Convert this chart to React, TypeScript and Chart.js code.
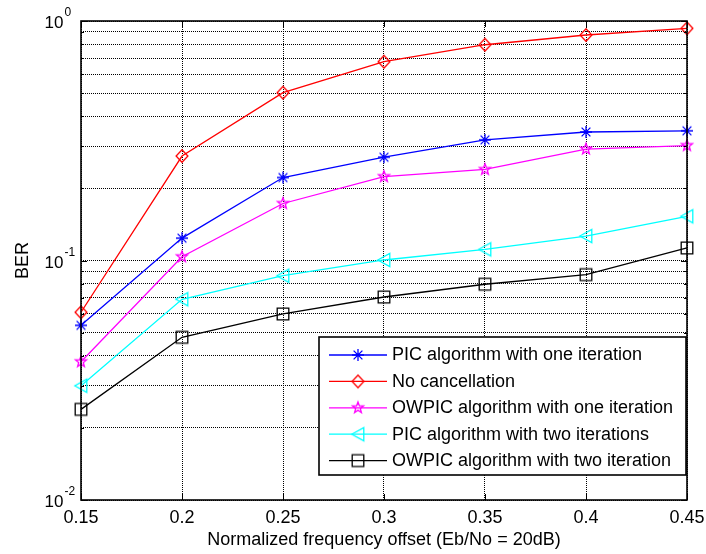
import React, { useEffect, useRef } from 'react';
import { Chart, registerables } from 'chart.js';

Chart.register(...registerables);

// ---- data ----
const xValues = [0.15, 0.2, 0.25, 0.3, 0.35, 0.4, 0.45];
const picOneIteration = [0.0536, 0.124, 0.222, 0.27, 0.319, 0.344, 0.348];
const noCancellation = [0.0608, 0.273, 0.502, 0.676, 0.796, 0.874, 0.932];
const owpicOneIteration = [0.0378, 0.1037, 0.173, 0.224, 0.24, 0.292, 0.302];
const picTwoIterations = [0.03, 0.0689, 0.0864, 0.1005, 0.1113, 0.1265, 0.153];
const owpicTwoIteration = [0.0239, 0.0478, 0.0598, 0.0704, 0.0796, 0.0873, 0.1128];

const seriesLabels = [
  'PIC algorithm with one iteration',
  'No cancellation',
  'OWPIC algorithm with one iteration',
  'PIC algorithm with two iterations',
  'OWPIC algorithm with two iteration',
];
const seriesValues = [picOneIteration, noCancellation, owpicOneIteration, picTwoIterations, owpicTwoIteration];
const seriesColors = ['#0000ff', '#ff0000', '#ff00ff', '#00ffff', '#000000'];
const seriesMarkers = ['asterisk', 'diamond', 'pentagram', 'triangleLeft', 'square'];

const xTickValues = [0.15, 0.2, 0.25, 0.3, 0.35, 0.4, 0.45];
const yTickValues = [
  0.01, 0.02, 0.03, 0.04, 0.05, 0.06, 0.07, 0.08, 0.09,
  0.1, 0.2, 0.3, 0.4, 0.5, 0.6, 0.7, 0.8, 0.9, 1,
];
const yMajorValues = [0.01, 0.1, 1];
const yMajorExponents = ['-2', '-1', '0'];

const xTitle = 'Normalized frequency offset (Eb/No = 20dB)';
const yTitle = 'BER';

const FONT = 'Arial, "Liberation Sans", Helvetica, sans-serif';

function makeMarker(kind: string, color: string): HTMLCanvasElement {
  const s = 18;
  const c = document.createElement('canvas');
  c.width = s;
  c.height = s;
  const g = c.getContext('2d')!;
  g.strokeStyle = color;
  g.lineWidth = 1.3;
  g.translate(s / 2, s / 2);
  g.beginPath();
  if (kind === 'asterisk') {
    const r = 6;
    const d = 4.4;
    g.moveTo(0, -r); g.lineTo(0, r);
    g.moveTo(-r, 0); g.lineTo(r, 0);
    g.moveTo(-d, -d); g.lineTo(d, d);
    g.moveTo(-d, d); g.lineTo(d, -d);
  } else if (kind === 'diamond') {
    g.moveTo(0, -6.2); g.lineTo(5.9, 0); g.lineTo(0, 6.2); g.lineTo(-5.9, 0); g.closePath();
  } else if (kind === 'pentagram') {
    for (let i = 0; i < 10; i++) {
      const a = -Math.PI / 2 + (i * Math.PI) / 5;
      const rad = i % 2 === 0 ? 5.8 : 2.4;
      const px = Math.cos(a) * rad;
      const py = Math.sin(a) * rad;
      if (i === 0) g.moveTo(px, py); else g.lineTo(px, py);
    }
    g.closePath();
  } else if (kind === 'triangleLeft') {
    g.moveTo(-6.2, 0); g.lineTo(5.8, -6.6); g.lineTo(5.8, 6.6); g.closePath();
  } else {
    g.rect(-5.8, -5.8, 11.6, 11.6);
  }
  g.stroke();
  return c;
}

export default function App() {
  const ref = useRef<HTMLCanvasElement>(null);

  useEffect(() => {
    const canvas = ref.current;
    if (!canvas) return;
    const markers = seriesMarkers.map((m, i) => makeMarker(m, seriesColors[i]));

    const frameAndLabels = {
      id: 'frameAndLabels',
      afterDatasetsDraw(chart: any) {
        const { ctx, chartArea } = chart;
        const { left, right, top, bottom } = chartArea;
        const xs = chart.scales.x;
        const ys = chart.scales.y;
        ctx.save();
        // inner tick marks
        ctx.strokeStyle = '#000';
        ctx.lineWidth = 1;
        ctx.setLineDash([]);
        ctx.beginPath();
        xTickValues.forEach((v) => {
          const px = Math.round(xs.getPixelForValue(v)) + 0.5;
          ctx.moveTo(px, bottom); ctx.lineTo(px, bottom - 6);
          ctx.moveTo(px, top); ctx.lineTo(px, top + 6);
        });
        yTickValues.forEach((v) => {
          const py = Math.round(ys.getPixelForValue(v)) + 0.5;
          const len = yMajorValues.includes(v) ? 6 : 3;
          ctx.moveTo(left, py); ctx.lineTo(left + len, py);
          ctx.moveTo(right, py); ctx.lineTo(right - len, py);
        });
        ctx.stroke();
        // box
        ctx.lineWidth = 1.6;
        ctx.strokeRect(left, top, right - left, bottom - top);

        // y tick labels 10^n
        ctx.fillStyle = '#000';
        ctx.textBaseline = 'alphabetic';
        yMajorValues.forEach((v, i) => {
          const py = ys.getPixelForValue(v);
          ctx.font = `17px ${FONT}`;
          ctx.textAlign = 'right';
          ctx.fillText('10', left - 17.5, py + 7.3);
          ctx.font = `12px ${FONT}`;
          ctx.textAlign = 'left';
          ctx.fillText(yMajorExponents[i], left - 16.5, py - 5);
        });

        // legend
        const boxW = 367;
        const boxH = 138;
        const bx = right - 1 - boxW;
        const by = bottom - 25 - boxH;
        ctx.fillStyle = '#fff';
        ctx.fillRect(bx, by, boxW, boxH);
        ctx.strokeStyle = '#000';
        ctx.lineWidth = 1.6;
        ctx.strokeRect(bx, by, boxW, boxH);
        ctx.font = `18px ${FONT}`;
        ctx.textAlign = 'left';
        ctx.textBaseline = 'middle';
        seriesLabels.forEach((label, i) => {
          const cy = by + 18 + i * 26.4;
          ctx.strokeStyle = seriesColors[i];
          ctx.lineWidth = 1.3;
          ctx.beginPath();
          ctx.moveTo(bx + 10, cy);
          ctx.lineTo(bx + 68, cy);
          ctx.stroke();
          const mk = markers[i];
          ctx.drawImage(mk, bx + 39 - mk.width / 2, cy - mk.height / 2);
          ctx.fillStyle = '#000';
          ctx.fillText(label, bx + 73, cy + 0.5);
        });
        ctx.restore();
      },
    };

    const chart = new Chart(canvas, {
      type: 'line',
      data: {
        datasets: seriesLabels.map((label, i) => ({
          label,
          data: xValues.map((x, j) => ({ x, y: seriesValues[i][j] })),
          borderColor: seriesColors[i],
          backgroundColor: seriesColors[i],
          borderWidth: 1.3,
          pointStyle: markers[i] as any,
          pointRadius: 6,
          pointHoverRadius: 6,
          fill: false,
          tension: 0,
          clip: false as any,
          order: seriesLabels.length - i,
        })),
      },
      options: {
        animation: false,
        responsive: false,
        events: [],
        layout: { padding: { top: 21, right: 19, left: 0, bottom: 0 } },
        plugins: {
          legend: { display: false },
          tooltip: { enabled: false },
          title: { display: false },
        },
        scales: {
          x: {
            type: 'linear',
            min: 0.15,
            max: 0.45,
            afterBuildTicks: (scale: any) => {
              scale.ticks = xTickValues.map((v) => ({ value: v }));
            },
            afterFit: (scale: any) => {
              scale.height = 54;
              scale.paddingLeft = 0;
              scale.paddingRight = 0;
            },
            ticks: {
              autoSkip: false,
              maxRotation: 0,
              padding: 7,
              color: '#000',
              font: { family: FONT, size: 18 },
              callback: (v: any) => String(parseFloat(Number(v).toFixed(2))),
            },
            grid: {
              color: '#000',
              lineWidth: 1,
              drawTicks: false,
            },
            border: { display: false, dash: [1, 1] },
            title: {
              display: true,
              text: xTitle,
              color: '#000',
              font: { family: FONT, size: 18 },
              padding: { top: 0, bottom: 3 },
            },
          },
          y: {
            type: 'logarithmic',
            min: 0.01,
            max: 1,
            afterBuildTicks: (scale: any) => {
              scale.ticks = yTickValues.map((v) => ({ value: v, major: yMajorValues.includes(v) }));
            },
            afterFit: (scale: any) => {
              scale.width = 81;
              scale.paddingTop = 0;
              scale.paddingBottom = 0;
            },
            ticks: { display: false, autoSkip: false },
            grid: {
              color: '#000',
              lineWidth: 1,
              drawTicks: false,
            },
            border: { display: false, dash: [1, 1] },
            title: {
              display: true,
              text: yTitle,
              color: '#000',
              font: { family: FONT, size: 18 },
              padding: { top: 12, bottom: 0 },
            },
          },
        },
      },
      plugins: [frameAndLabels],
    } as any);

    return () => chart.destroy();
  }, []);

  return (
    <div style={{ position: 'absolute', left: 0, top: 0, width: 706, height: 554, background: '#fff' }}>
      <canvas ref={ref} width={706} height={554} style={{ display: 'block' }} />
    </div>
  );
}
